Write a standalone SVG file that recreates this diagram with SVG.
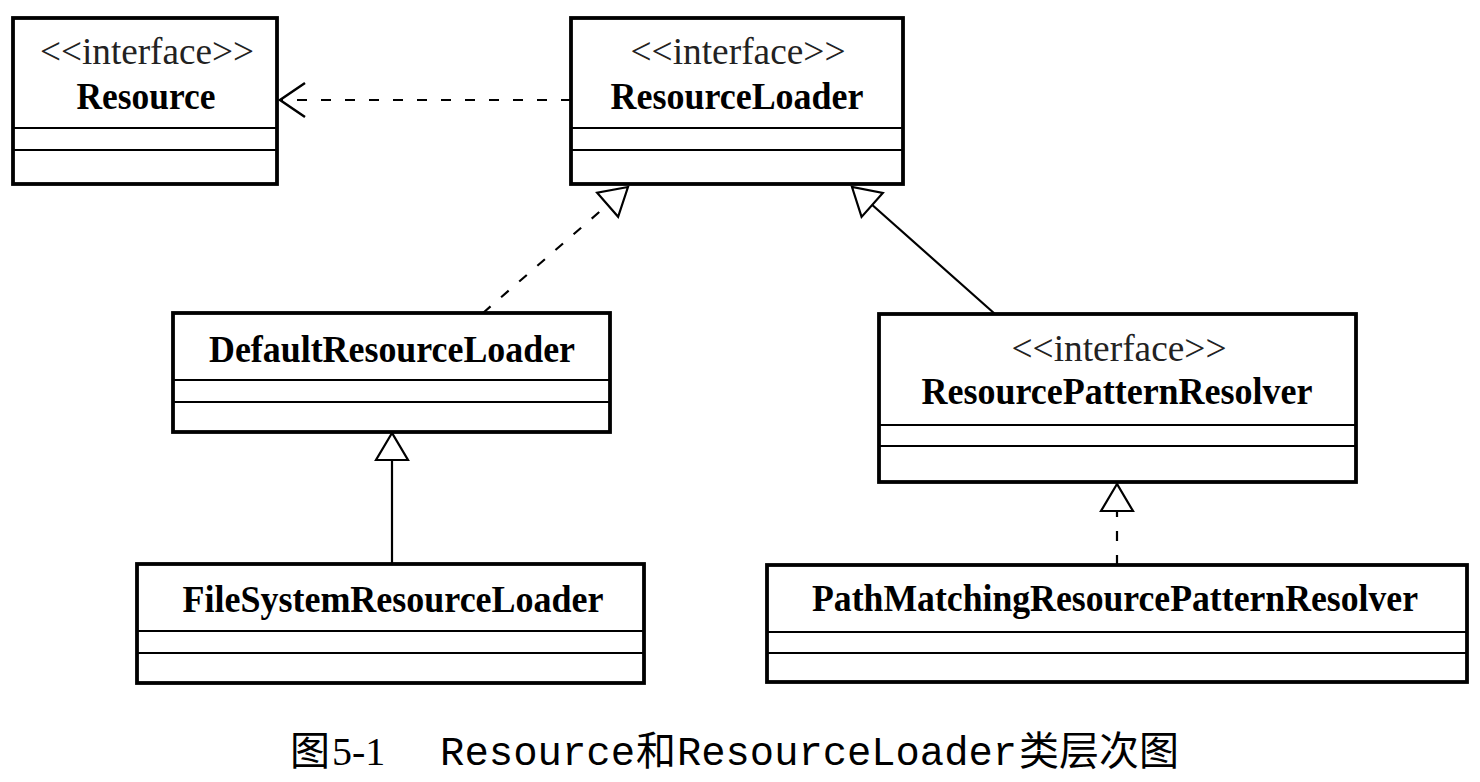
<svg xmlns="http://www.w3.org/2000/svg" width="1480" height="782" viewBox="0 0 1480 782">
<style>
.box{fill:#fff;stroke:#000;stroke-width:3.8}
.div{stroke:#000;stroke-width:2.2}
.st{font-family:"Liberation Serif","Times New Roman",serif;font-size:37px;fill:#222;text-anchor:middle}
.nm{font-family:"Liberation Serif","Times New Roman",serif;font-size:38px;font-weight:bold;fill:#000;text-anchor:middle}
.ln{fill:none;stroke:#000;stroke-width:2.2}
.dash{stroke-dasharray:10 14}
.cap{font-family:"Liberation Serif","Noto Sans CJK SC",serif;font-size:40px;fill:#000}
.mono{font-family:"Liberation Mono","Courier New",monospace}
.cjk{font-family:"Noto Sans CJK SC",sans-serif}
</style>
<defs>
<marker id="tri" markerUnits="userSpaceOnUse" markerWidth="60" markerHeight="60" refX="0" refY="0" orient="auto" overflow="visible">
<path d="M0,0 L-27,-16 L-27,16 Z" fill="#fff" stroke="#000" stroke-width="2.2" stroke-dasharray="none"/>
</marker>
<marker id="open" markerUnits="userSpaceOnUse" markerWidth="60" markerHeight="60" refX="0" refY="0" orient="auto" overflow="visible">
<path d="M-25,-17 L0,0 L-25,17" fill="none" stroke="#000" stroke-width="2.5" stroke-dasharray="none"/>
</marker>
</defs>

<g id="connectors">
<line class="ln dash" x1="571" y1="100" x2="280" y2="100" marker-end="url(#open)"/>
<line class="ln dash" x1="483" y1="313" x2="628" y2="187" marker-end="url(#tri)"/>
<line class="ln" x1="995" y1="314" x2="852" y2="187" marker-end="url(#tri)"/>
<line class="ln" x1="392" y1="564" x2="392" y2="433" marker-end="url(#tri)"/>
<line class="ln dash" x1="1117" y1="565" x2="1117" y2="484" marker-end="url(#tri)"/>
</g>

<g id="Resource">
<rect class="box" x="13" y="18" width="264" height="166"/>
<line class="div" x1="13" y1="128" x2="277" y2="128"/>
<line class="div" x1="13" y1="150" x2="277" y2="150"/>
<text class="st" x="147" y="64" textLength="214" lengthAdjust="spacingAndGlyphs">&lt;&lt;interface&gt;&gt;</text>
<text class="nm" x="146" y="109" textLength="139" lengthAdjust="spacingAndGlyphs">Resource</text>
</g>

<g id="ResourceLoader">
<rect class="box" x="571" y="18" width="332" height="166"/>
<line class="div" x1="571" y1="128" x2="903" y2="128"/>
<line class="div" x1="571" y1="150" x2="903" y2="150"/>
<text class="st" x="738" y="64" textLength="215" lengthAdjust="spacingAndGlyphs">&lt;&lt;interface&gt;&gt;</text>
<text class="nm" x="737" y="109" textLength="253" lengthAdjust="spacingAndGlyphs">ResourceLoader</text>
</g>

<g id="DefaultResourceLoader">
<rect class="box" x="173" y="313" width="437" height="119"/>
<line class="div" x1="173" y1="380" x2="610" y2="380"/>
<line class="div" x1="173" y1="402" x2="610" y2="402"/>
<text class="nm" x="392" y="362" textLength="366" lengthAdjust="spacingAndGlyphs">DefaultResourceLoader</text>
</g>

<g id="FileSystemResourceLoader">
<rect class="box" x="137" y="564" width="507" height="119"/>
<line class="div" x1="137" y1="631" x2="644" y2="631"/>
<line class="div" x1="137" y1="653" x2="644" y2="653"/>
<text class="nm" x="393" y="612" textLength="421" lengthAdjust="spacingAndGlyphs">FileSystemResourceLoader</text>
</g>

<g id="ResourcePatternResolver">
<rect class="box" x="879" y="314" width="477" height="168"/>
<line class="div" x1="879" y1="425" x2="1356" y2="425"/>
<line class="div" x1="879" y1="446" x2="1356" y2="446"/>
<text class="st" x="1119" y="361" textLength="215" lengthAdjust="spacingAndGlyphs">&lt;&lt;interface&gt;&gt;</text>
<text class="nm" x="1117" y="404" textLength="391" lengthAdjust="spacingAndGlyphs">ResourcePatternResolver</text>
</g>

<g id="PathMatchingResourcePatternResolver">
<rect class="box" x="767" y="565" width="700" height="117"/>
<line class="div" x1="767" y1="632" x2="1467" y2="632"/>
<line class="div" x1="767" y1="653" x2="1467" y2="653"/>
<text class="nm" x="1115" y="611" textLength="606" lengthAdjust="spacingAndGlyphs">PathMatchingResourcePatternResolver</text>
</g>

<g id="caption">
<text class="cap" y="765"><tspan class="cjk" x="290">图</tspan><tspan x="332">5-1</tspan><tspan class="mono" x="440" textLength="195" lengthAdjust="spacingAndGlyphs">Resource</tspan><tspan class="cjk" x="636">和</tspan><tspan class="mono" x="677" textLength="340" lengthAdjust="spacingAndGlyphs">ResourceLoader</tspan><tspan class="cjk" x="1019">类层次图</tspan></text>
</g>
</svg>
